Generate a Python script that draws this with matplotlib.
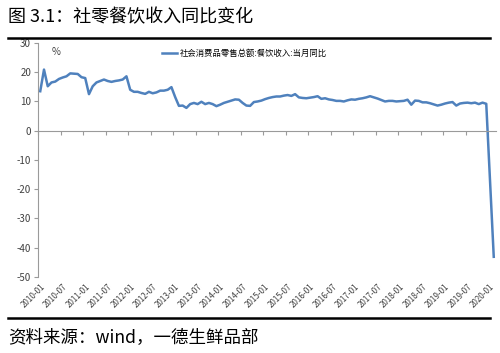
import numpy as np
import matplotlib
matplotlib.use('Agg')
import matplotlib.pyplot as plt
import pandas as pd
from matplotlib.lines import Line2D

plt.rcParams['font.family'] = ['Noto Sans CJK SC', 'DejaVu Sans']
plt.rcParams['axes.unicode_minus'] = False

# monthly catering revenue yoy, 2010-01 .. 2020-02 (2020-01 not reported)
months = pd.date_range('2010-01-01', periods=122, freq='MS').strftime('%Y-%m').tolist()
yoy = [13.5, 20.9, 15.2, 16.5, 16.8, 17.7, 18.2, 18.6, 19.6, 19.5, 19.4, 18.3,
       18.0, 12.5, 15.2, 16.5, 17.0, 17.5, 17.0, 16.7, 17.0, 17.2, 17.5, 18.6,
       14.0, 13.3, 13.3, 12.9, 12.6, 13.3, 12.8, 13.1, 13.7, 13.7, 14.0, 14.9,
       11.5, 8.5, 8.6, 7.8, 9.1, 9.5, 9.1, 9.9, 9.1, 9.5, 9.1, 8.4,
       8.9, 9.5, 9.9, 10.3, 10.7, 10.6, 9.5, 8.6, 8.5, 9.8, 10.0, 10.3,
       10.8, 11.2, 11.5, 11.7, 11.7, 12.0, 12.2, 11.9, 12.5, 11.4, 11.2, 11.1,
       11.3, 11.5, 11.8, 10.9, 11.1, 10.7, 10.5, 10.2, 10.2, 10.0, 10.4, 10.7,
       10.6, 10.9, 11.1, 11.4, 11.8, 11.4, 11.0, 10.5, 10.0, 10.2, 10.2, 10.0,
       10.1, 10.2, 10.6, 8.9, 10.3, 10.2, 9.7, 9.7, 9.4, 9.0, 8.6, 8.9,
       9.3, 9.6, 9.8, 8.6, 9.3, 9.5, 9.6, 9.4, 9.6, 9.1, 9.6, 9.2,
       None, -43.1]
yticks = [30, 20, 10, 0, -10, -20, -30, -40, -50]
series_name = '社会消费品零售总额:餐饮收入:当月同比'
title = '图 3.1：社零餐饮收入同比变化'
source = '资料来源：wind，一德生鲜品部'

df = pd.DataFrame({'month': months, 'yoy': yoy})
df['pos'] = np.arange(len(df))
line_df = df.dropna()

fig = plt.figure(figsize=(5, 3.53), dpi=100)
ax = fig.add_axes([0.076, 0.2153, 0.916, 0.663])

grey = '#9a9a9a'
ax.plot(line_df['pos'], line_df['yoy'], color='#4F81BD', lw=1.8, label=series_name)

ax.set_xlim(-0.6, 121.6)
ax.set_ylim(-50, 30)
ax.set_yticks(yticks)
ax.tick_params(axis='y', direction='out', length=3, color=grey, labelsize=7,
               labelcolor='#404040', pad=2)

for s in ['top', 'right']:
    ax.spines[s].set_visible(False)
ax.spines['left'].set_color(grey)
ax.spines['left'].set_linewidth(0.8)
# category axis sits on the zero line
ax.spines['bottom'].set_position(('data', 0))
ax.spines['bottom'].set_color(grey)
ax.spines['bottom'].set_linewidth(0.8)

# ticks between categories, labels every 6 months pushed to the bottom
ax.set_xticks(np.arange(-0.5, len(df), 6), minor=True)
ax.tick_params(axis='x', which='minor', direction='out', length=3, color=grey,
               width=0.8)
ax.set_xticks(df['pos'][::6])
ax.set_xticklabels(df['month'][::6])
ax.tick_params(axis='x', which='major', length=0, labelsize=5.8,
               labelcolor='#404040', pad=109)
plt.setp(ax.get_xticklabels(), rotation=45, ha='right', va='top',
         rotation_mode='anchor')

ax.text(0.03, 0.96, '%', transform=ax.transAxes, fontsize=7, color='#404040',
        ha='left', va='center')

ax.legend(loc='center left', bbox_to_anchor=(0.271, 0.957), frameon=False,
          fontsize=6, handlelength=1.8, handletextpad=0.35, borderpad=0,
          borderaxespad=0)

fig.text(0.016, 0.952, title, fontsize=13, ha='left', va='center', color='black')
fig.text(0.016, 0.0425, source, fontsize=12.6, ha='left', va='center', color='black')
fig.add_artist(Line2D([0.016, 0.98], [0.892, 0.892], transform=fig.transFigure,
                      color='black', lw=1.8))
fig.add_artist(Line2D([0.016, 0.98], [0.099, 0.099], transform=fig.transFigure,
                      color='black', lw=1.8))

fig.savefig('out.png', dpi=100)
